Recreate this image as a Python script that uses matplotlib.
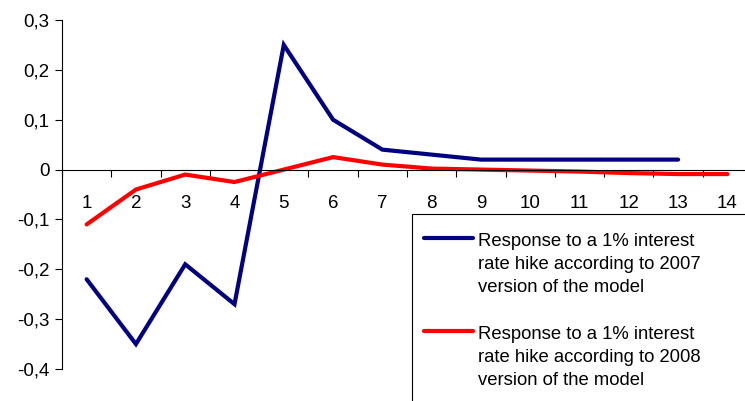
import matplotlib
matplotlib.use("Agg")
import matplotlib.pyplot as plt
from matplotlib.lines import Line2D
from matplotlib.patches import Rectangle
from matplotlib.ticker import FuncFormatter, MultipleLocator, FixedLocator

plt.rcParams['font.family'] = ['Liberation Sans', 'DejaVu Sans']

periods = list(range(1, 15))
resp_2007 = [-0.22, -0.35, -0.19, -0.27, 0.25, 0.10, 0.04, 0.03, 0.02, 0.02, 0.02, 0.02, 0.02]
resp_2008 = [-0.11, -0.04, -0.01, -0.025, 0.0, 0.025, 0.01, 0.002, 0.0, -0.002, -0.004, -0.007, -0.009, -0.009]
labels = [
    "Response to a 1% interest\nrate hike according to 2007\nversion of the model",
    "Response to a 1% interest\nrate hike according to 2008\nversion of the model",
]
colors = ["#000080", "#FF0000"]

W, H = 745, 401
fig = plt.figure(figsize=(W / 100, H / 100), dpi=100)
ax = fig.add_axes([62 / W, (H - 369) / H, 690 / W, 349 / H])

ax.plot(periods[:len(resp_2007)], resp_2007, color=colors[0], lw=3.0,
        solid_capstyle='round', solid_joinstyle='miter', clip_on=False)
ax.plot(periods[:len(resp_2008)], resp_2008, color=colors[1], lw=3.0,
        solid_capstyle='round', solid_joinstyle='miter', clip_on=False)

ax.set_xlim(0.5, 14.5)
ax.set_ylim(-0.4, 0.3)

for s in ['top', 'right']:
    ax.spines[s].set_visible(False)
ax.spines['bottom'].set_position(('data', 0))
for s in ['left', 'bottom']:
    ax.spines[s].set_linewidth(0.8)
    ax.spines[s].set_color('black')

ax.yaxis.set_major_locator(MultipleLocator(0.1))
ax.yaxis.set_major_formatter(FuncFormatter(lambda v, p: ("%.1f" % v).replace('.', ',') if abs(v) > 1e-9 else "0"))
ax.tick_params(axis='y', direction='out', length=5, width=0.8, pad=4, labelsize=13.5)

ax.xaxis.set_major_locator(FixedLocator(periods))
ax.set_xticklabels([str(p) for p in periods])
ax.xaxis.set_minor_locator(FixedLocator([p + 0.5 for p in range(0, 15)]))
ax.tick_params(axis='x', which='major', length=0, pad=18, labelsize=13.5)
ax.tick_params(axis='x', which='minor', direction='out', length=5, width=0.8)

# legend box
box = Rectangle((412 / W, -0.1), 0.5, (H - 214) / H + 0.1, transform=fig.transFigure,
                facecolor='white', edgecolor='black', lw=0.8, clip_on=False)
fig.add_artist(box)
for i, (lab, col) in enumerate(zip(labels, colors)):
    yc = 238 + i * 93
    fig.add_artist(Line2D([424 / W, 473 / W], [(H - yc) / H] * 2, transform=fig.transFigure,
                          color=col, lw=3.0, solid_capstyle='round'))
    fig.text(478 / W, (H - yc + 5) / H, lab, fontsize=13.3, va='top', ha='left',
             linespacing=1.45, transform=fig.transFigure)

fig.savefig("out.png", dpi=100)
